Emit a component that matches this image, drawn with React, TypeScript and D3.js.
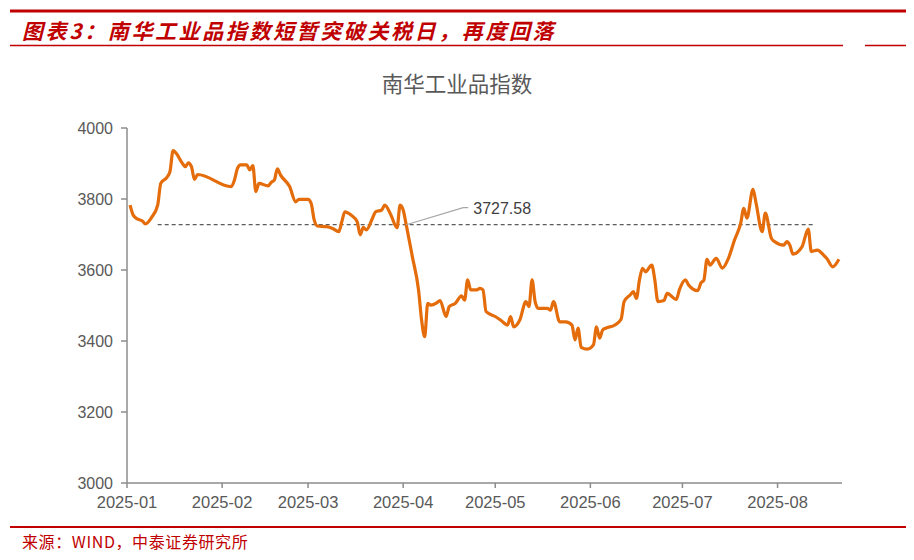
import React from "react";
import * as d3 from "d3";

const dates: string[] = [
  "2025-01-02","2025-01-03","2025-01-04","2025-01-06","2025-01-07","2025-01-09","2025-01-11","2025-01-12",
  "2025-01-14","2025-01-15","2025-01-16","2025-01-17","2025-01-19","2025-01-20","2025-01-21","2025-01-22",
  "2025-01-23","2025-01-24","2025-02-04","2025-02-05","2025-02-06","2025-02-07","2025-02-09","2025-02-10",
  "2025-02-11","2025-02-12","2025-02-13","2025-02-16","2025-02-17","2025-02-18","2025-02-19","2025-02-20",
  "2025-02-23","2025-02-25","2025-02-26","2025-03-01","2025-03-02","2025-03-03","2025-03-04","2025-03-07",
  "2025-03-09","2025-03-11","2025-03-12","2025-03-13","2025-03-15","2025-03-17","2025-03-18","2025-03-19",
  "2025-03-20","2025-03-22","2025-03-23","2025-03-25","2025-03-26","2025-03-28","2025-03-30","2025-03-31",
  "2025-04-01","2025-04-02","2025-04-04","2025-04-06","2025-04-07","2025-04-08","2025-04-09","2025-04-10",
  "2025-04-12","2025-04-13","2025-04-15","2025-04-16","2025-04-18","2025-04-20","2025-04-21","2025-04-22",
  "2025-04-23","2025-04-25","2025-04-26","2025-04-27","2025-04-28","2025-05-01","2025-05-03","2025-05-05",
  "2025-05-06","2025-05-07","2025-05-09","2025-05-11","2025-05-12","2025-05-13","2025-05-14","2025-05-15",
  "2025-05-18","2025-05-19","2025-05-20","2025-05-22","2025-05-24","2025-05-26","2025-05-27","2025-05-28",
  "2025-05-29","2025-05-31","2025-06-02","2025-06-03","2025-06-04","2025-06-05","2025-06-06","2025-06-09",
  "2025-06-11","2025-06-12","2025-06-14","2025-06-15","2025-06-16","2025-06-17","2025-06-18","2025-06-19",
  "2025-06-21","2025-06-22","2025-06-23","2025-06-25","2025-06-26","2025-06-29","2025-06-30","2025-07-02",
  "2025-07-03","2025-07-06","2025-07-07","2025-07-08","2025-07-09","2025-07-10","2025-07-12","2025-07-14",
  "2025-07-16","2025-07-18","2025-07-20","2025-07-21","2025-07-22","2025-07-24","2025-07-25","2025-07-27",
  "2025-07-28","2025-07-30","2025-07-31","2025-08-03","2025-08-04","2025-08-05","2025-08-06","2025-08-09",
  "2025-08-11","2025-08-12","2025-08-14","2025-08-16","2025-08-17","2025-08-19","2025-08-21",
];

const values: number[] = [
  3783, 3755, 3746, 3738, 3730, 3748, 3783, 3844,
  3861, 3877, 3936, 3929, 3901, 3891, 3902, 3891,
  3855, 3869, 3835, 3853, 3886, 3896, 3896, 3882,
  3894, 3821, 3844, 3837, 3847, 3853, 3885, 3868,
  3835, 3792, 3799, 3799, 3788, 3741, 3724, 3722,
  3717, 3708, 3736, 3764, 3755, 3736, 3699, 3720,
  3713, 3746, 3764, 3769, 3783, 3755, 3719, 3783,
  3769, 3727, 3637, 3544, 3459, 3412, 3506, 3501,
  3508, 3514, 3469, 3497, 3506, 3527, 3515, 3572,
  3544, 3544, 3548, 3544, 3483, 3469, 3457, 3445,
  3469, 3440, 3459, 3511, 3497, 3572, 3511, 3492,
  3492, 3487, 3511, 3454, 3454, 3445, 3403, 3436,
  3382, 3377, 3389, 3440, 3408, 3431, 3436, 3445,
  3461, 3511, 3530, 3539, 3520, 3572, 3605, 3595,
  3614, 3572, 3511, 3514, 3534, 3517, 3544, 3572,
  3558, 3542, 3563, 3572, 3630, 3614, 3633, 3605,
  3633, 3685, 3732, 3774, 3746, 3827, 3788, 3708,
  3760, 3689, 3680, 3670, 3680, 3670, 3645, 3666,
  3715, 3652, 3656, 3642, 3633, 3609, 3630,
];

const yTicks: number[] = [3000, 3200, 3400, 3600, 3800, 4000];
const monthTicks: string[] = ["2025-01-01","2025-02-01","2025-03-01","2025-04-01","2025-05-01","2025-06-01","2025-07-01","2025-08-01"];
const refValue = 3727.58;
const refStart = "2025-01-11";
const refEnd = "2025-08-13";
const domainStart = "2025-01-01";
const domainEnd = "2025-08-22";

const headerTitle = "图表3：南华工业品指数短暂突破关税日，再度回落";
const chartTitle = "南华工业品指数";
const sourceText = "来源：WIND，中泰证券研究所";

const parse = d3.utcParse("%Y-%m-%d");
const fmt = d3.utcFormat("%Y-%m");

export default function App() {
  const W = 914, H = 560;
  const x = d3.scaleUtc().domain([parse(domainStart)!, parse(domainEnd)!]).range([127, 842]);
  const y = d3.scaleLinear().domain([3000, 4000]).range([483, 128]);
  const pts = dates.map((d, i) => [parse(d)!, values[i]] as [Date, number]);
  const line = d3.line<[Date, number]>().x(d => x(d[0])).y(d => y(d[1])).curve(d3.curveMonotoneX);
  const red = "#C00000";
  const axisColor = "#8C8C8C";
  const labelColor = "#595959";
  const sans = "'Liberation Sans', Arial, sans-serif";
  const cjk = "'Noto Sans CJK SC', sans-serif";
  const annX0 = x(parse("2025-04-02")!);
  const annY0 = y(refValue);
  return (
    <svg width={W} height={H} style={{ position: "absolute", left: 0, top: 0 }}>
      <rect width={W} height={H} fill="#fff" />
      <line x1={10} x2={906} y1={11} y2={11} stroke={red} strokeWidth={3} />
      <text x={22} y={39} fill={red} fontFamily={cjk} fontSize={21} fontWeight="bold" fontStyle="italic" letterSpacing={2.6}>{headerTitle}</text>
      <line x1={10} x2={843} y1={45.5} y2={45.5} stroke={red} strokeWidth={1.5} />
      <line x1={865} x2={906} y1={45.5} y2={45.5} stroke={red} strokeWidth={1.5} />

      <text x={457} y={92} textAnchor="middle" fill={labelColor} fontFamily={cjk} fontSize={21.5}>{chartTitle}</text>

      {yTicks.map(t => (
        <g key={t}>
          <line x1={121} x2={127} y1={y(t)} y2={y(t)} stroke={axisColor} strokeWidth={1.5} />
          <text x={113} y={y(t) + 5.5} textAnchor="end" fill={labelColor} fontFamily={sans} fontSize={16}>{t}</text>
        </g>
      ))}
      <line x1={127} x2={127} y1={y(4000)} y2={y(3000)} stroke={axisColor} strokeWidth={1.5} />
      <line x1={127} x2={842} y1={y(3000)} y2={y(3000)} stroke={axisColor} strokeWidth={1.5} />
      {monthTicks.map(m => {
        const xx = x(parse(m)!);
        return (
          <g key={m}>
            <line x1={xx} x2={xx} y1={y(3000)} y2={y(3000) + 5} stroke={axisColor} strokeWidth={1.5} />
            <text x={xx} y={508} textAnchor="middle" fill={labelColor} fontFamily={sans} fontSize={16.5}>{fmt(parse(m)!)}</text>
          </g>
        );
      })}

      <line x1={x(parse(refStart)!)} x2={x(parse(refEnd)!)} y1={y(refValue)} y2={y(refValue)} stroke="#333" strokeWidth={1} strokeDasharray="4,3" />
      <path d={line(pts) ?? ""} fill="none" stroke="#E46C0A" strokeWidth={3.2} strokeLinejoin="round" />
      <polyline points={`${annX0},${annY0} ${annX0 + 57},${annY0 - 17} ${annX0 + 62},${annY0 - 17}`} fill="none" stroke="#A6A6A6" strokeWidth={1.2} />
      <text x={annX0 + 67} y={annY0 - 11} fill="#404040" fontFamily={sans} fontSize={16}>{refValue.toFixed(2)}</text>

      <line x1={10} x2={906} y1={527} y2={527} stroke={red} strokeWidth={2} />
      <text x={22} y={548} fill={red} fontFamily={cjk} fontSize={16} letterSpacing={0.6}>{sourceText}</text>
    </svg>
  );
}
